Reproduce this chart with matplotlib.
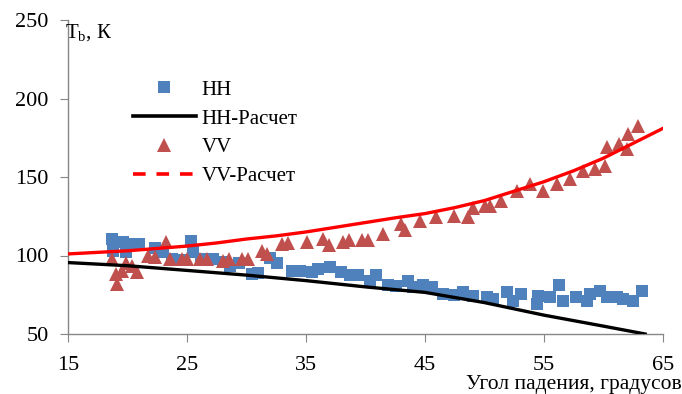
"""
Brightness temperature vs incidence angle: HH / VV measurements and model
"""

import matplotlib
matplotlib.use("Agg")
import matplotlib.pyplot as plt
from matplotlib.lines import Line2D

plt.rcParams.update({
    'font.family': ['Liberation Serif', 'DejaVu Serif'],
    'mathtext.fontset': 'custom',
    'mathtext.rm': 'Liberation Serif',
    'mathtext.it': 'Liberation Serif:italic',
})

# measured HH (angle, Tb)
hh_angle = [18.7, 18.8, 19.6, 19.9, 20.2, 21.0, 22.3, 23.0, 23.7, 24.4, 25.3, 25.5,
            26.2, 27.2, 28.0, 28.6, 29.4, 30.5, 31.0, 32.0, 32.6, 33.8, 34.5, 35.5,
            36.0, 37.0, 37.9, 38.7, 39.4, 40.4, 40.9, 41.9, 42.6, 43.6, 44.0, 44.8,
            45.6, 46.5, 47.4, 48.2, 49.0, 50.2, 50.7, 51.9, 52.4, 53.1, 54.4, 54.5,
            55.5, 56.3, 56.6, 57.7, 58.6, 58.9, 59.7, 60.3, 61.1, 61.6, 62.5, 63.2]
hh_tb = [110.6, 103.0, 108.5, 102.0, 107.6, 107.6, 104.5, 102.0, 98.0, 97.0, 109.5, 102.0,
         98.0, 98.0, 96.0, 93.6, 95.0, 88.5, 89.0, 98.7, 95.5, 90.4, 90.4, 89.4,
         91.7, 92.6, 89.4, 87.3, 87.3, 84.0, 87.3, 81.0, 80.3, 84.0, 80.0, 81.0,
         80.0, 75.7, 75.0, 76.6, 74.5, 73.4, 72.6, 76.6, 71.3, 75.6, 69.4, 74.5,
         73.4, 81.0, 71.3, 73.4, 71.3, 75.6, 77.7, 73.4, 73.4, 72.6, 71.3, 77.7]

# measured VV (angle, Tb)
vv_angle = [18.7, 19.0, 19.1, 19.5, 19.9, 20.4, 20.8, 21.7, 22.3, 23.2, 23.6, 24.6,
            25.0, 26.1, 26.7, 28.0, 28.5, 29.6, 30.1, 31.3, 31.7, 33.0, 33.5, 35.1,
            36.4, 36.9, 38.1, 38.6, 39.7, 40.2, 41.5, 43.0, 43.3, 44.6, 45.9, 47.4,
            48.6, 49.0, 50.0, 50.5, 51.4, 52.7, 53.8, 54.9, 56.1, 57.2, 58.3, 59.3,
            60.1, 60.3, 61.3, 62.0, 62.1, 62.9]
vv_tb = [97.9, 88.5, 82.0, 90.4, 95.0, 93.0, 89.4, 100.0, 99.0, 108.5, 98.0, 97.9,
         97.9, 97.9, 97.9, 96.8, 98.0, 97.9, 97.9, 103.0, 101.0, 107.6, 108.0, 108.5,
         110.8, 106.4, 108.5, 110.0, 109.6, 110.0, 114.0, 120.0, 116.0, 122.0, 124.4, 125.0,
         124.4, 130.5, 131.8, 131.8, 135.0, 141.4, 145.7, 141.4, 145.7, 148.9, 154.0, 155.2,
         157.3, 169.0, 171.0, 168.0, 177.5, 182.8]

# model curves
hh_calc_angle = [15, 20, 25, 30, 35, 40, 45, 50, 55, 60, 63.5]
hh_calc_tb = [95.5, 93.5, 90.5, 87.5, 84.0, 80.0, 76.5, 70.0, 62.0, 55.0, 50.0]
vv_calc_angle = [15, 17.5, 20, 22.5, 25, 27.5, 30, 32.5, 35, 37.5, 40, 42.5,
                 45, 47.5, 50, 52.5, 55, 57.5, 60, 62.5, 65]
vv_calc_tb = [101.0, 102.0, 103.0, 104.5, 106.0, 108.0, 110.5, 112.5, 115.0, 118.0,
              121.0, 124.0, 126.7, 130.5, 135.0, 141.0, 147.0, 154.0, 162.0, 171.5, 181.0]

x_ticks = [15, 25, 35, 45, 55, 65]
y_ticks = [50, 100, 150, 200, 250]

fig = plt.figure(figsize=(6.82, 3.94), dpi=100)
ax = fig.add_axes([68 / 682, 60 / 394, 595 / 682, 314 / 394])

ax.plot(vv_calc_angle, vv_calc_tb, color='#ff0000', linewidth=2.4, zorder=3)
ax.plot(hh_calc_angle, hh_calc_tb, color='black', linewidth=2.4, zorder=3)
ax.plot(hh_angle, hh_tb, linestyle='none', marker='s', markersize=8.8,
        color='#4f81bd', markeredgewidth=0, zorder=2)
ax.plot(vv_angle, vv_tb, linestyle='none', marker='^', markersize=9.5,
        color='#c0504d', markeredgewidth=0, zorder=2)

ax.set_xlim(15, 65)
ax.set_ylim(50, 250)
ax.set_xticks(x_ticks)
ax.set_yticks(y_ticks)

for side in ['top', 'right']:
    ax.spines[side].set_visible(False)
for side in ['left', 'bottom']:
    ax.spines[side].set_color('#868686')
    ax.spines[side].set_linewidth(1.0)
ax.tick_params(axis='both', direction='out', length=6, color='#868686',
               labelsize=16)
ax.tick_params(axis='x', pad=9.5)
ax.tick_params(axis='y', pad=8)

fig.text(65 / 682, 1 - 33 / 394, r'T$_\mathrm{b}$, К', fontsize=15,
         ha='left', va='center')
fig.text(682 / 682, 1 - 385 / 394, 'Угол падения, градусов', fontsize=15.5,
         ha='right', va='center')

handles = [
    Line2D([], [], linestyle='none', marker='s', markersize=8.8, color='#4f81bd',
           markeredgewidth=0),
    Line2D([], [], color='black', linewidth=2.6),
    Line2D([], [], linestyle='none', marker='^', markersize=9.5, color='#c0504d',
           markeredgewidth=0),
    Line2D([], [], color='#ff0000', linewidth=2.6, dashes=(3.5, 3)),
]
labels = ['НН', 'НН-Расчет', 'VV', 'VV-Расчет']
fig.legend(handles, labels, loc='upper left',
           bbox_to_anchor=(133 / 682, 1 - 80 / 394), frameon=False,
           fontsize=15, handlelength=3.0, handletextpad=0.3,
           labelspacing=0.45, borderpad=0, borderaxespad=0)

fig.savefig('out.png', dpi=100)
